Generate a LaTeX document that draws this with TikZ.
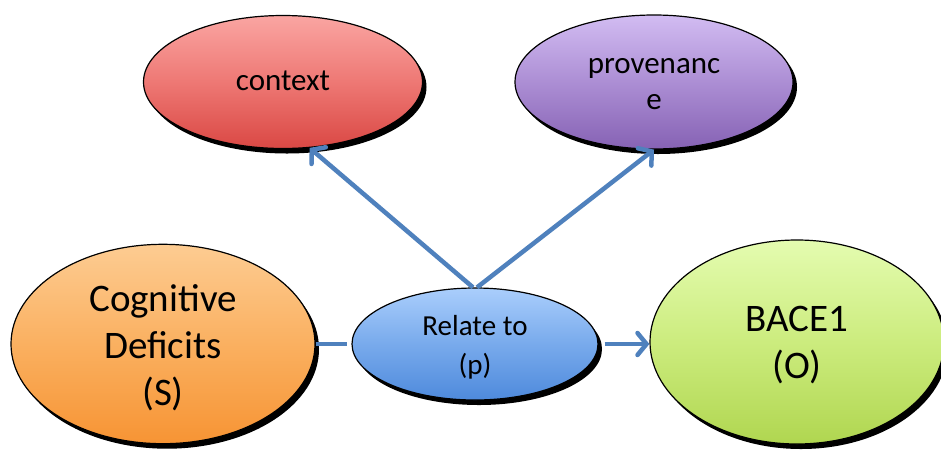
\documentclass[tikz,border=0pt]{standalone}
\usepackage{fontspec}
\setmainfont{Carlito}
\usetikzlibrary{shapes.geometric,arrows.meta,shadows}
\definecolor{arrowblue}{RGB}{79,129,189}
\newcommand{\lowtext}[2]{\raisebox{-#1}[\height][\depth]{\begin{tabular}{@{}c@{}}#2\end{tabular}}}
\begin{document}
\begin{tikzpicture}[x=1pt,y=-1pt,
  oval/.style={ellipse, draw=black, line width=1.2pt, inner sep=0pt,
    drop shadow={shadow xshift=4pt, shadow yshift=-5pt, fill=black, opacity=1}},
  conn/.style={draw=arrowblue, line width=4.5pt},
  arr/.style={conn, -{Straight Barb[length=9pt,width=22pt,line cap=round]}},
  bigtext/.style={font=\fontsize{39}{47}\selectfont},
  midtext/.style={font=\fontsize{31}{36}\selectfont},
  smalltext/.style={font=\fontsize{29}{39}\selectfont}]
\useasboundingbox (0,0) rectangle (941,456);
\fill[white] (0,0) rectangle (941,456);
\node[oval, midtext, minimum width=279pt, minimum height=133pt,
  top color={rgb,255:red,250;green,165;blue,162}, bottom color={rgb,255:red,218;green,72;blue,68},
  middle color={rgb,255:red,238;green,120;blue,116}] (ctx) at (283,82) {\lowtext{1pt}{context}};
\node[oval, midtext, minimum width=278pt, minimum height=134pt,
  top color={rgb,255:red,210;green,188;blue,242}, bottom color={rgb,255:red,134;green,98;blue,180},
  middle color={rgb,255:red,172;green,142;blue,212}] (prov) at (654,82) {\lowtext{2pt}{provenanc\\e}};
\node[oval, bigtext, minimum width=304pt, minimum height=188pt,
  top color={rgb,255:red,253;green,204;blue,146}, bottom color={rgb,255:red,247;green,148;blue,52},
  middle color={rgb,255:red,250;green,176;blue,96}] (cog) at (163,344) {\lowtext{5pt}{Cognitive\\Deficits\\(S)}};
\node[oval, smalltext, minimum width=246pt, minimum height=112pt,
  top color={rgb,255:red,170;green,206;blue,252}, bottom color={rgb,255:red,78;green,138;blue,220},
  middle color={rgb,255:red,120;green,170;blue,236}] (rel) at (475,344) {\lowtext{3pt}{Relate to\\(p)}};
\node[oval, bigtext, minimum width=294pt, minimum height=204pt,
  top color={rgb,255:red,228;green,252;blue,176}, bottom color={rgb,255:red,176;green,214;blue,80},
  middle color={rgb,255:red,204;green,236;blue,126}] (bace) at (797,342) {\lowtext{4pt}{BACE1\\(O)}};
\draw[arr] ([xshift=-2pt]rel.north) -- (ctx.-68);
\draw[arr] ([xshift=2pt]rel.north) -- (prov.south);
\draw[conn, shorten >=4pt] (cog.east) -- (rel.west);
\draw[arr, shorten <=6pt] (rel.east) -- (rel.east -| bace.west);
\end{tikzpicture}
\end{document}
